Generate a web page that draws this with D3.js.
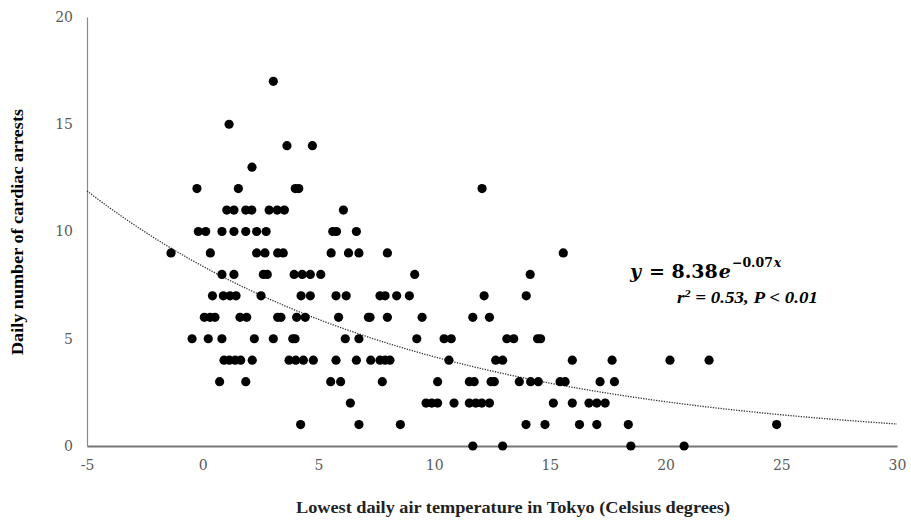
<!DOCTYPE html>
<html>
<head>
<meta charset="utf-8">
<script src="https://cdn.jsdelivr.net/npm/d3@7"></script>
<style>
  body { margin: 0; background: #fff; }
  svg { display: block; }
</style>
</head>
<body>
<div id="container"></div>
<script>
/* CONSTANTS AND GLOBALS */
const width = 911,
  height = 520,
  margin = {top: 17, right: 14, bottom: 74, left: 87};

// DATA: lowest daily temperature (x) and daily number of cardiac arrests (y)
const tempX = [
  3.05,
  1.14,
  3.64, 4.74,
  2.13,
  -0.25, 1.54, 4.0, 4.15, 12.07,
  1.04, 1.35, 1.86, 2.12, 2.87, 3.22, 3.53, 6.08,
  -0.19, 0.13, 0.83, 1.35, 1.86, 2.33, 2.74, 5.62, 5.78, 6.64,
  -1.37, 0.33, 2.33, 2.69, 3.24, 3.48, 5.55, 6.3, 6.75, 7.98, 15.58,
  0.83, 1.35, 2.62, 2.79, 3.95, 4.3, 4.65, 5.1, 9.16, 14.15,
  0.42, 0.89, 1.18, 1.44, 2.52, 4.25, 4.65, 5.76, 6.2, 7.66, 7.88, 8.38, 8.93, 12.16, 13.98,
  0.07, 0.32, 0.53, 1.61, 1.9, 3.24, 3.38, 4.06, 4.43, 5.87, 7.16, 7.23, 7.98, 9.48, 11.67, 12.39,
  -0.46, 0.24, 0.83, 2.23, 3.05, 3.89, 3.99, 6.16, 6.75, 9.25, 10.43, 10.74, 13.14, 13.44, 14.47, 14.6,
  0.92, 1.15, 1.4, 1.64, 2.14, 3.73, 4.02, 4.35, 4.78, 5.76, 6.64, 7.26, 7.66, 7.88, 8.09, 10.64, 12.66, 12.96, 15.97, 17.69, 20.19, 21.88,
  0.73, 1.86, 5.53, 5.96, 7.76, 10.15, 11.52, 11.73, 12.46, 12.6, 13.68, 14.17, 14.5, 15.44, 15.66, 17.17, 17.79,
  6.38, 9.65, 9.9, 10.15, 10.86, 11.52, 11.8, 12.06, 12.39, 15.15, 15.97, 16.69, 17.03, 17.39,
  4.23, 6.75, 8.54, 13.97, 14.79, 16.28, 17.03, 18.39, 24.8,
  11.67, 12.96, 18.5, 20.8
];
const arrests = [
  17,
  15,
  14, 14,
  13,
  12, 12, 12, 12, 12,
  11, 11, 11, 11, 11, 11, 11, 11,
  10, 10, 10, 10, 10, 10, 10, 10, 10, 10,
  9, 9, 9, 9, 9, 9, 9, 9, 9, 9, 9,
  8, 8, 8, 8, 8, 8, 8, 8, 8, 8,
  7, 7, 7, 7, 7, 7, 7, 7, 7, 7, 7, 7, 7, 7, 7,
  6, 6, 6, 6, 6, 6, 6, 6, 6, 6, 6, 6, 6, 6, 6, 6,
  5, 5, 5, 5, 5, 5, 5, 5, 5, 5, 5, 5, 5, 5, 5, 5,
  4, 4, 4, 4, 4, 4, 4, 4, 4, 4, 4, 4, 4, 4, 4, 4, 4, 4, 4, 4, 4, 4,
  3, 3, 3, 3, 3, 3, 3, 3, 3, 3, 3, 3, 3, 3, 3, 3, 3,
  2, 2, 2, 2, 2, 2, 2, 2, 2, 2, 2, 2, 2, 2,
  1, 1, 1, 1, 1, 1, 1, 1, 1,
  0, 0, 0, 0
];
const xTicks = [-5, 0, 5, 10, 15, 20, 25, 30];
const yTicks = [0, 5, 10, 15, 20];

// fitted curve y = a * e^(b x)
const fitA = 8.38, fitB = -0.07;

const data = tempX.map((x, i) => ({x: x, y: arrests[i]}));

// SCALES
const xScale = d3.scaleLinear()
  .domain([-5, 30])
  .range([margin.left, width - margin.right]);

const yScale = d3.scaleLinear()
  .domain([0, 20])
  .range([height - margin.bottom, margin.top]);

// CREATE SVG ELEMENT
const svg = d3.select("#container")
  .append("svg")
  .attr("width", width)
  .attr("height", height);

const tickFont = "'DejaVu Serif', 'Liberation Serif', serif";

// x-axis
const xAxis = svg.append("g")
  .attr("transform", `translate(0,${yScale(0)})`)
  .call(d3.axisBottom(xScale).tickValues(xTicks).tickFormat(d => String(d)).tickSize(0).tickPadding(14));
xAxis.select(".domain").attr("stroke", "#767676").attr("stroke-width", 2);
xAxis.selectAll("text")
  .attr("fill", "#595959")
  .style("font-family", tickFont)
  .style("font-size", "14px");

// y-axis
const yAxis = svg.append("g")
  .attr("transform", `translate(${xScale(-5)},0)`)
  .call(d3.axisLeft(yScale).tickValues(yTicks).tickSize(0).tickPadding(14));
yAxis.select(".domain").attr("stroke", "#8a8a8a").attr("stroke-width", 1.2);
yAxis.selectAll("text")
  .attr("fill", "#595959")
  .style("font-family", tickFont)
  .style("font-size", "14px");

// fitted curve (dotted)
const curveX = d3.range(-5, 30.01, 0.25);
const line = d3.line()
  .x(d => xScale(d))
  .y(d => yScale(fitA * Math.exp(fitB * d)));

svg.append("path")
  .datum(curveX)
  .attr("fill", "none")
  .attr("stroke", "#333")
  .attr("stroke-width", 1.3)
  .attr("stroke-dasharray", "1.3,1.3")
  .attr("d", line);

// points
svg.append("g")
  .selectAll("circle")
  .data(data)
  .join("circle")
  .attr("cx", d => xScale(d.x))
  .attr("cy", d => yScale(d.y))
  .attr("r", 4.6)
  .attr("fill", "#000");

// axis titles
svg.append("text")
  .attr("x", 513)
  .attr("y", 513)
  .attr("text-anchor", "middle")
  .attr("textLength", 434)
  .attr("lengthAdjust", "spacingAndGlyphs")
  .style("font-family", "'Liberation Serif', serif")
  .style("font-weight", "bold")
  .style("font-size", "16px")
  .attr("fill", "#222")
  .text("Lowest daily air temperature in Tokyo (Celsius degrees)");

svg.append("text")
  .attr("transform", `translate(23,232) rotate(-90)`)
  .attr("text-anchor", "middle")
  .attr("textLength", 246)
  .attr("lengthAdjust", "spacingAndGlyphs")
  .style("font-family", "'Liberation Serif', serif")
  .style("font-weight", "bold")
  .style("font-size", "16px")
  .attr("fill", "#000")
  .text("Daily number of cardiac arrests");

// equation, placed piece by piece so the parts sit side by side
const eqParts = [
  {t: "y", italic: true, size: 19, dy: 0, gap: 5},
  {t: "= 8.38", italic: false, size: 19, dy: 0, gap: 1},
  {t: "e", italic: true, size: 19, dy: 0, gap: 1},
  {t: "−0.07", italic: false, size: 12.5, dy: -11, gap: 1},
  {t: "x", italic: true, size: 12.5, dy: -11, gap: 0}
];
let eqX = 630;
eqParts.forEach(p => {
  const t = svg.append("text")
    .attr("x", eqX)
    .attr("y", 278 + p.dy)
    .style("font-family", "'DejaVu Serif', serif")
    .style("font-size", p.size + "px")
    .style("font-weight", "bold")
    .style("font-style", p.italic ? "italic" : "normal")
    .attr("fill", "#000")
    .text(p.t);
  eqX += t.node().getBBox().width + p.gap;
});

const stat = svg.append("text")
  .attr("x", 677)
  .attr("y", 303)
  .attr("textLength", 141)
  .attr("lengthAdjust", "spacingAndGlyphs")
  .style("font-family", "'Liberation Serif', serif")
  .style("font-size", "17px")
  .style("font-style", "italic")
  .style("font-weight", "bold")
  .attr("fill", "#000");
stat.append("tspan").text("r");
stat.append("tspan").attr("dy", -6).style("font-size", "11px").text("2");
stat.append("tspan").attr("dy", 6).text(" = 0.53, P < 0.01");
</script>
</body>
</html>
